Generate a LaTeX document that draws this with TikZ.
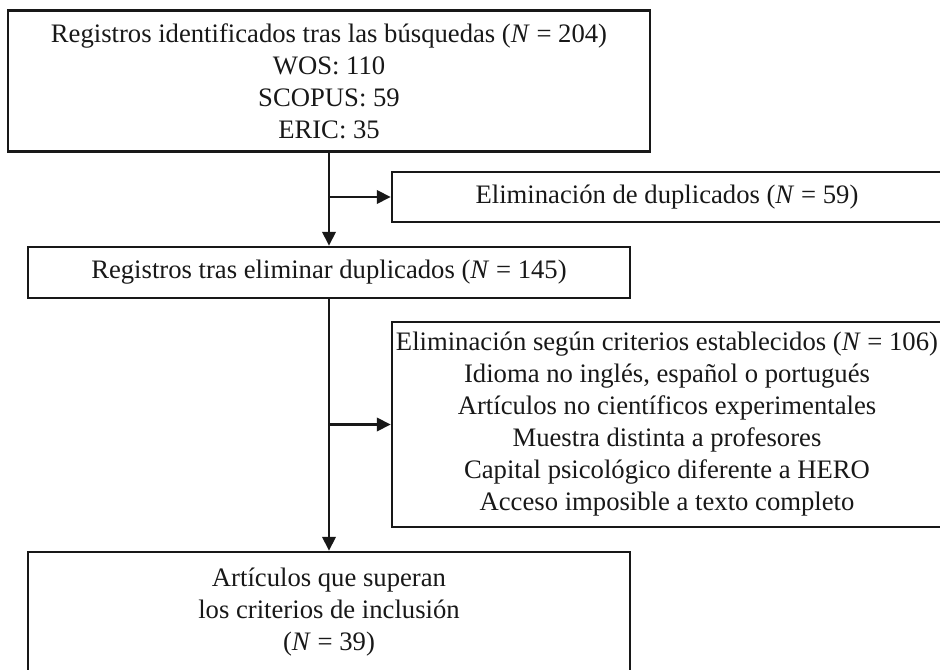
\documentclass[tikz,border=0pt]{standalone}
\usepackage{fontspec}
\setmainfont{Liberation Serif}
\usetikzlibrary{arrows.meta}
\newlength\pxu
\setlength\pxu{0.75pt}
\definecolor{ink}{RGB}{24,24,24}
\begin{document}
\begin{tikzpicture}[x=0.75pt,y=-0.75pt,
  box/.style={draw=ink,line width=1.8pt,inner sep=0pt,align=center,text=ink,
    font=\fontsize{20}{24}\selectfont},
  conn/.style={draw=ink,line width=1.8pt},
  arr/.style={conn,-{Triangle[length=10.5pt,width=10pt]}}]
\useasboundingbox (0,0) rectangle (940,670);
\fill[white] (0,0) rectangle (940,670);
\clip (0,0) rectangle (940,670);
\node[box,minimum width=642\pxu,minimum height=141\pxu] (top) at (329,81)
  {Registros identificados tras las búsquedas (\textit{N} = 204)\\WOS: 110\\SCOPUS: 59\\ERIC: 35};
\node[box,minimum width=550\pxu,minimum height=50\pxu] (e1) at (667,197)
  {Eliminación de duplicados (\textit{N} = 59)};
\node[box,minimum width=602\pxu,minimum height=51\pxu] (b2) at (329,272.5)
  {Registros tras eliminar duplicados (\textit{N} = 145)};
\node[box,minimum width=550\pxu,minimum height=205\pxu] (e2) at (667,424.5)
  {Eliminación según criterios establecidos (\textit{N} = 106)\\Idioma no inglés, español o portugués\\Artículos no científicos experimentales\\Muestra distinta a profesores\\Capital psicológico diferente a HERO\\Acceso imposible a texto completo};
\node[box,minimum width=602\pxu,minimum height=178\pxu] (b3) at (329,641)
  {Artículos que superan\\los criterios de inclusión\\(\textit{N} = 39)\\\mbox{}\\\mbox{}};
\draw[arr] (top.south) -- (b2.north);
\draw[arr] (top.south |- e1.west) -- (e1.west);
\draw[arr] (b2.south) -- (b3.north);
\draw[arr] (b2.south |- e2.west) -- (e2.west);
\end{tikzpicture}
\end{document}
